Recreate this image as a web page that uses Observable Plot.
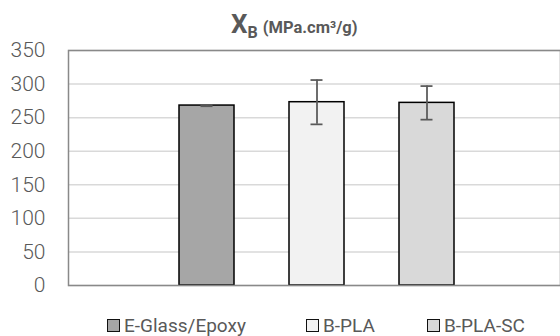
<!DOCTYPE html>
<html>
<head>
<meta charset="utf-8">
<script src="https://cdn.jsdelivr.net/npm/d3@7"></script>
<script src="https://cdn.jsdelivr.net/npm/@observablehq/plot@0.6"></script>
<style>
  html, body { margin: 0; padding: 0; background: #fff; }
  #wrap { position: relative; width: 560px; height: 336px; overflow: hidden; font-family: Roboto, "Liberation Sans", sans-serif; }
  #title { position: absolute; top: 9px; left: 231px; color: #595959; font-weight: bold; white-space: nowrap; }
  #title .x { font-size: 26px; }
  #title .sub { font-size: 16px; position: relative; top: 5px; }
  #title .unit { font-size: 16.5px; margin-left: 5px; }
  #legend { position: absolute; top: 314px; left: 0; width: 560px; height: 22px; color: #595959; font-size: 19px; }
  #legend .item { position: absolute; display: flex; align-items: center; white-space: nowrap; }
  #legend .sw { width: 11px; height: 11px; border: 1.5px solid #111; margin-right: 4px; }
  #chart { position: absolute; top: 0; left: 0; }
</style>
</head>
<body>
<div id="wrap">
  <div id="chart"></div>
  <div id="title"><span class="x">X</span><span class="sub">B</span><span class="unit">(MPa.cm³/g)</span></div>
  <div id="legend"></div>
</div>
<script>
const categories = ["E-Glass/Epoxy", "B-PLA", "B-PLA-SC"];
const values = [268, 273, 272];
const errors = [1, 33, 25];
const yTicks = [0, 50, 100, 150, 200, 250, 300, 350];
const colors = ["#a6a6a6", "#f2f2f2", "#d9d9d9"];

const data = categories.map((c, i) => ({category: c, value: values[i], err: errors[i]}));

const chart = Plot.plot({
  width: 560,
  height: 336,
  marginLeft: 68,
  marginRight: 0,
  marginTop: 50,
  marginBottom: 51,
  style: {fontFamily: "Roboto, 'Liberation Sans', sans-serif", fontSize: "21px", fontWeight: 300, color: "#595959", background: "#fff"},
  x: {type: "band", domain: categories, range: [151, 481], paddingInner: 0.5, paddingOuter: 0.25, axis: null},
  y: {domain: [0, 350], ticks: yTicks, tickSize: 0, tickPadding: 23, label: null},
  color: {domain: categories, range: colors},
  marks: [
    Plot.gridY(yTicks, {stroke: "#d9d9d9", strokeOpacity: 1, strokeWidth: 1.5}),
    Plot.barY(data, {x: "category", y: "value", fill: "category", stroke: "#000", strokeWidth: 1.5}),
    Plot.ruleX(data, {x: "category", y1: d => d.value - d.err, y2: d => d.value + d.err, stroke: "#595959", strokeWidth: 1.75}),
    Plot.tickY(data, {x: "category", y: d => d.value + d.err, stroke: "#595959", strokeWidth: 1.75, insetLeft: 21.5, insetRight: 21.5}),
    Plot.tickY(data, {x: "category", y: d => d.value - d.err, stroke: "#595959", strokeWidth: 1.75, insetLeft: 21.5, insetRight: 21.5}),
    Plot.frame({stroke: "#898989", strokeWidth: 1.5})
  ]
});
document.getElementById("chart").appendChild(chart);

const legendX = [107, 306, 427];
const legend = document.getElementById("legend");
categories.forEach((c, i) => {
  const item = document.createElement("div");
  item.className = "item";
  item.style.left = legendX[i] + "px";
  const sw = document.createElement("span");
  sw.className = "sw";
  sw.style.background = colors[i];
  const lab = document.createElement("span");
  lab.textContent = c;
  item.appendChild(sw);
  item.appendChild(lab);
  legend.appendChild(item);
});
</script>
</body>
</html>
